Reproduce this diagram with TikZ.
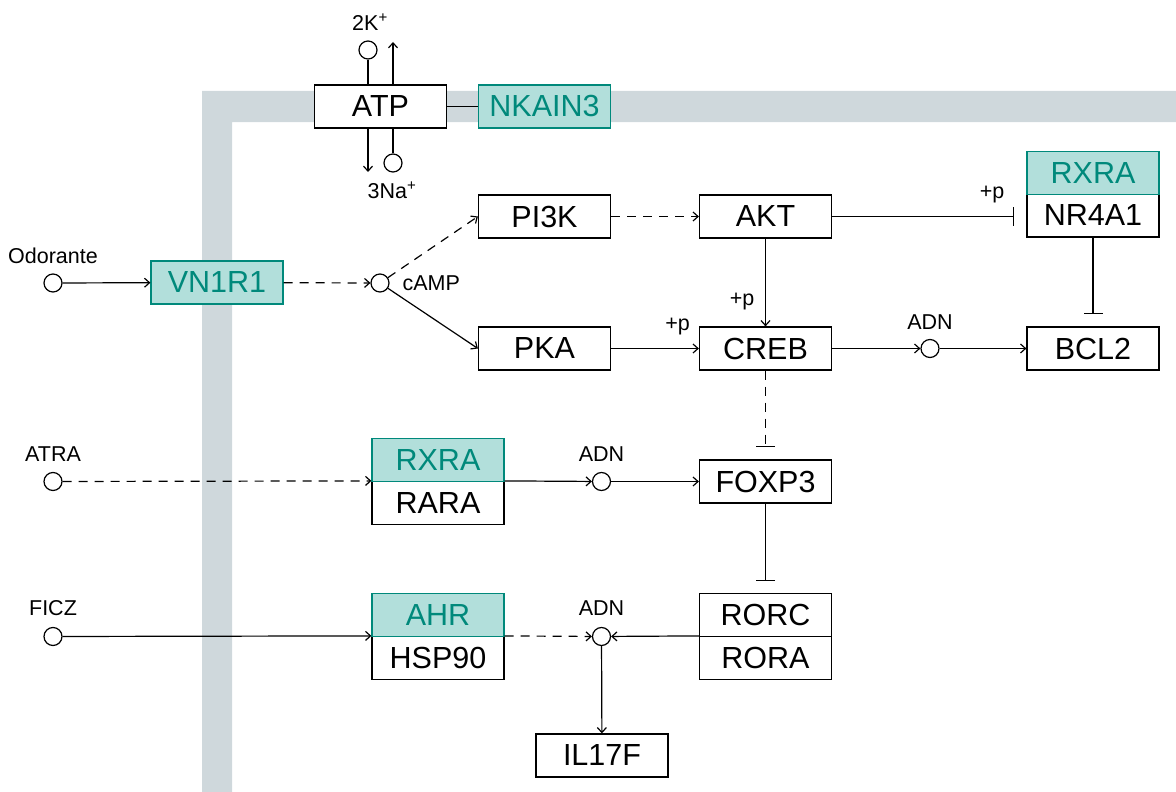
\documentclass[tikz,border=0pt]{standalone}
\usepackage{fontspec}
\setmainfont{Liberation Sans}
\usetikzlibrary{arrows.meta}
\definecolor{memb}{HTML}{CFD8DC}
\definecolor{tealfill}{HTML}{B2DFDB}
\definecolor{tealtext}{HTML}{00897B}
\begin{document}
\begin{tikzpicture}[x=1pt,y=-1pt, line width=1.2pt,
 box/.style={draw, fill=white, minimum width=132pt, minimum height=43pt, inner sep=0pt, font=\fontsize{30.5}{33}\selectfont},
 tbox/.style={box, draw=tealtext, fill=tealfill, text=tealtext},
 dot/.style={circle, draw, fill=white, minimum size=18pt, inner sep=0pt},
 lbl/.style={font=\fontsize{21.5}{24}\selectfont, inner sep=0pt},
 arr/.style={-{Straight Barb[length=5pt,width=9pt]}},
 inh/.style={-{Bar[width=19pt]}, shorten >=12pt},
 dsh/.style={dash pattern=on 9pt off 7pt},
]
\useasboundingbox (0,0) rectangle (1176,792);
% membrane
\fill[memb] (202,792) -- (202,91) -- (1176,91) -- (1176,122) -- (232,122) -- (232,792) -- cycle;

% boxes
\node[box] (atp) at (380.5,106.5) {ATP};
\node[tbox] (nkain) at (544.5,106.5) {NKAIN3};
\node[tbox] (vn1r1) at (217,282.5) {VN1R1};
\node[box] (pi3k) at (544.5,216.5) {PI3K};
\node[box] (pka) at (544.5,348.5) {PKA};
\node[box] (akt) at (765.5,216.5) {AKT};
\node[box] (creb) at (765.5,348.5) {CREB};
\node[box] (nr4a1) at (1093,215.5) {NR4A1};
\node[tbox, minimum height=42.5pt] (rxra1) at (1093,173) {RXRA};
\node[box] (bcl2) at (1093,348.5) {BCL2};
\node[box] (foxp3) at (765.5,481.5) {FOXP3};
\node[box] (rara) at (438,503) {RARA};
\node[tbox] (rxra2) at (438,460) {RXRA};
\node[box] (hsp90) at (438,658) {HSP90};
\node[tbox] (ahr) at (438,615) {AHR};
\node[box] (rora) at (765.5,658) {RORA};
\node[box] (rorc) at (765.5,615) {RORC};
\node[box] (il17f) at (602,755.5) {IL17F};

% small molecules
\node[dot] (odor) at (53,283) {};
\node[dot] (camp) at (380,283) {};
\node[dot] (k) at (368,50) {};
\node[dot] (na) at (393,163) {};
\node[dot] (adn1) at (930,348.5) {};
\node[dot] (atra) at (53,481.5) {};
\node[dot] (adn2) at (601.5,481.5) {};
\node[dot] (ficz) at (53,636.5) {};
\node[dot] (adn3) at (601.5,636.5) {};
\coordinate (kout) at (393,42);
\coordinate (naout) at (368,172);

% labels
\node[lbl] (lk) at (370,22) {2K\textsuperscript{+}};
\node[lbl] (lna) at (392,190) {3Na\textsuperscript{+}};
\node[lbl] (lodor) at (53,256) {Odorante};
\node[lbl, anchor=west] (lcamp) at (402,283) {cAMP};
\node[lbl] (lp1) at (992,195) {+p};
\node[lbl] (lp2) at (742,302) {+p};
\node[lbl] (lp3) at (677.5,327) {+p};
\node[lbl] (ladn1) at (930,322) {ADN};
\node[lbl] (latra) at (53,454) {ATRA};
\node[lbl] (ladn2) at (601.5,454) {ADN};
\node[lbl] (lficz) at (53,608) {FICZ};
\node[lbl] (ladn3) at (601.5,608) {ADN};

% connectors
\draw (atp) -- (nkain);
\draw (k) -- (k |- atp.north);
\draw[arr] (atp.north -| kout) -- (kout);
\draw[arr] (atp.south -| naout) -- (naout);
\draw (na) -- (na |- atp.south);
\draw[arr] (odor) -- (vn1r1);
\draw[arr,dsh] (vn1r1) -- (camp);
\draw[arr,dsh] (camp) -- (pi3k.west);
\draw[arr] (camp) -- (pka.west);
\draw[arr,dsh] (pi3k) -- (akt);
\draw[arr] (akt) -- (creb);
\draw[arr] (pka) -- (creb);
\draw[inh] (akt.east) -- (akt.east -| nr4a1.west);
\draw[inh] (nr4a1) -- (bcl2);
\draw[arr] (creb) -- (adn1);
\draw[arr] (adn1) -- (bcl2);
\draw[inh,dsh] (creb) -- (foxp3);
\draw[arr,dsh] (atra) -- (rara.north west);
\draw[arr] (rara.north east) -- (adn2);
\draw[arr] (adn2) -- (foxp3);
\draw[inh] (foxp3) -- (rorc);
\draw[arr] (ficz) -- (hsp90.north west);
\draw[arr,dsh] (hsp90.north east) -- (adn3);
\draw[arr] (rora.north west) -- (adn3);
\draw[arr] (adn3) -- (il17f);
\end{tikzpicture}
\end{document}
